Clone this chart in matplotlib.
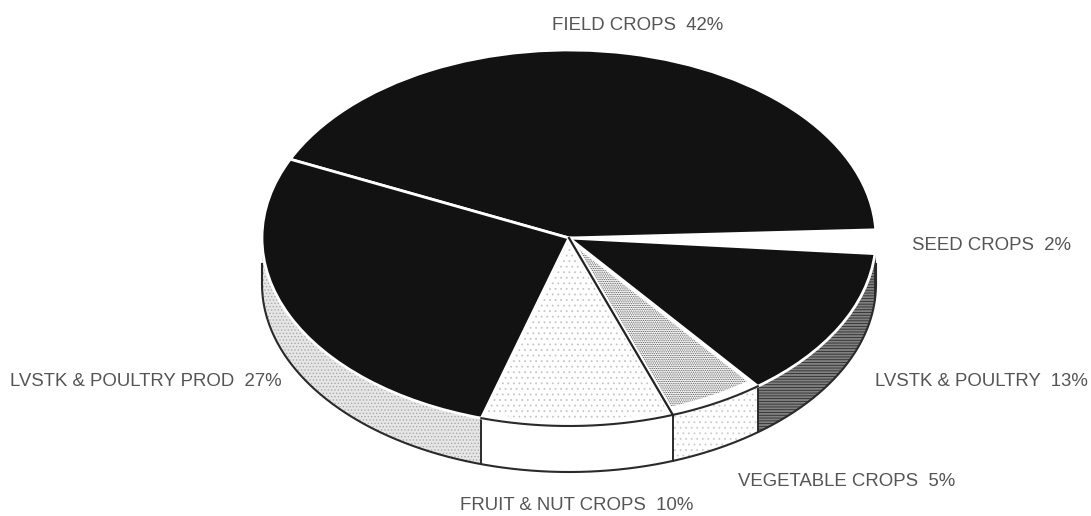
import numpy as np
import matplotlib
matplotlib.use('Agg')
import matplotlib.pyplot as plt

plt.rcParams['font.family'] = ['Liberation Sans', 'DejaVu Sans']
plt.rcParams['hatch.linewidth'] = 0.6

# slices, counter-clockwise from the seed crops edge
categories = ['FIELD CROPS', 'LVSTK & POULTRY PROD', 'FRUIT & NUT CROPS',
              'VEGETABLE CROPS', 'LVSTK & POULTRY', 'SEED CROPS']
values = [42, 27, 10, 5, 13, 2]

W, H = 1091, 516
cx, cy, rx, ry = 569, 238, 307, 188
depth = 46 / ry
start = 2.5

fig = plt.figure(figsize=(W / 100, H / 100), dpi=100)
ax = fig.add_axes([0, 0, 1, 1])

# wedge angles from the values
edges = start + np.concatenate([[0], np.cumsum(values)]) / sum(values) * 360

# side wall
wall_face = ['white', '#e6e6e6', 'white', 'white', '#808080', 'white']
wall_hatch = [None, '.....', None, '...', '------', None]
wall_hatch_col = ['white', '#a8a8a8', 'white', '#cccccc', '#2c2c2c', 'white']
for i in range(len(values)):
    a, b = max(edges[i], 180), min(edges[i + 1], 360)
    if b <= a:
        continue
    t = np.radians(np.linspace(a, b, 120))
    ax.fill_between(np.cos(t), np.sin(t) - depth, np.sin(t), facecolor=wall_face[i],
                    hatch=wall_hatch[i], edgecolor=wall_hatch_col[i], linewidth=0, zorder=1)
    if a > 180 and a < 360:
        ta = np.radians(a)
        ax.plot([np.cos(ta)] * 2, [np.sin(ta), np.sin(ta) - depth], color='#2a2a2a', lw=1.4, zorder=2)

# top face
tops = ['#121212', '#121212', 'white', 'white', '#121212', 'white']
wedges, _ = ax.pie(values, startangle=start, colors=tops, counterclock=True,
                   wedgeprops={'linewidth': 0}, normalize=True)
for w in wedges:
    w.set_zorder(3)

# white gaps round the black slices
for i in [0, 1, 4]:
    wedges[i].set_edgecolor('white')
    wedges[i].set_linewidth(2.0)
    wedges[i].set_zorder(4)

# dots on fruit, speckle on vegetable
over, _ = ax.pie(values, startangle=start, radius=0.97, colors=['none'] * len(values),
                 wedgeprops={'linewidth': 0})
over[2].set(hatch='...', edgecolor='#c6c6c6', zorder=3.5)
over[3].set(hatch='.........', edgecolor='#505050', zorder=3.5)
for i in [0, 1, 4, 5]:
    over[i].set_visible(False)

# white margin inside the speckled slice
margin, _ = ax.pie(values, startangle=start, radius=0.97, colors=['none'] * len(values),
                   wedgeprops={'linewidth': 4, 'edgecolor': 'white'})
for i, m in enumerate(margin):
    m.set_visible(i == 3)
    m.set_zorder(3.6)

# outlines
t = np.radians(np.linspace(180, 360, 400))
ax.plot(np.cos(t), np.sin(t) - depth, color='#2a2a2a', lw=1.5, zorder=5)
ax.plot([-1, -1], [-0.14, -depth], color='#2a2a2a', lw=1.5, zorder=5)
ax.plot([1, 1], [-0.14, -depth], color='#2a2a2a', lw=1.5, zorder=5)
t = np.radians(np.linspace(edges[2], edges[4], 200))
ax.plot(np.cos(t), np.sin(t), color='#2a2a2a', lw=1.5, zorder=5)
t = np.radians(edges[3])
ax.plot([0, np.cos(t)], [0, np.sin(t)], color='#222222', lw=1.6, zorder=5)

ax.set_aspect('auto')
ax.set_xlim((0 - cx) / rx, (W - cx) / rx)
ax.set_ylim((cy - H) / ry, cy / ry)
ax.axis('off')

# labels
labels = [f'{c}  {v}%' for c, v in zip(categories, values)]
txt = {'fontsize': 13.4, 'color': '#555555', 'va': 'center', 'ha': 'left'}
fig.text(552 / W, 1 - 25 / H, labels[0], **txt)
fig.text(10 / W, 1 - 382 / H, labels[1], **txt)
fig.text(460 / W, 1 - 505 / H, labels[2], **txt)
fig.text(738 / W, 1 - 481 / H, labels[3], **txt)
fig.text(875 / W, 1 - 382 / H, labels[4], **txt)
fig.text(912 / W, 1 - 245 / H, labels[5], **txt)

fig.savefig('out.png', dpi=100)
